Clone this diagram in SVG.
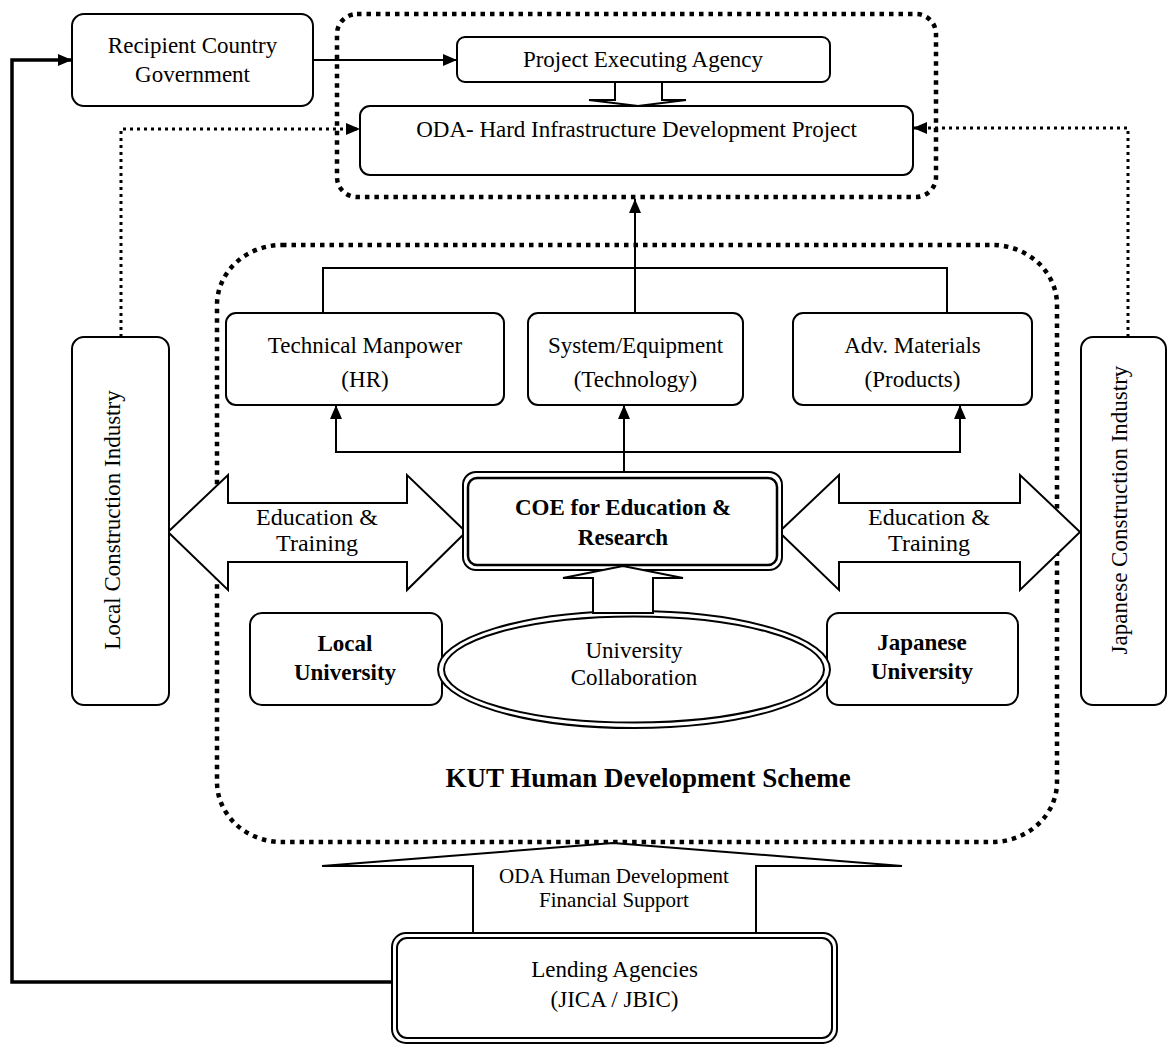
<svg xmlns="http://www.w3.org/2000/svg" width="1168" height="1048" viewBox="0 0 1168 1048">
<defs>
<style>
text{font-family:"Liberation Serif","Times New Roman",serif;font-size:23px;fill:#000;text-anchor:middle}
.b{font-weight:bold}
.et{font-size:24px}
.box{fill:#fff;stroke:#000;stroke-width:2}
.grp{fill:none;stroke:#000;stroke-width:4.5;stroke-dasharray:4.5 5}
.dot{fill:none;stroke:#000;stroke-width:3;stroke-dasharray:3 4}
.ln{fill:none;stroke:#000;stroke-width:2}
.thick{fill:none;stroke:#000;stroke-width:3.5}
.blk{fill:#fff;stroke:#000;stroke-width:2;stroke-linejoin:miter}
</style>
<marker id="arr" viewBox="0 0 14 12" refX="14" refY="6" markerWidth="14" markerHeight="12" markerUnits="userSpaceOnUse" orient="auto">
<path d="M0,0 L14,6 L0,12 z" fill="#000"/>
</marker>
</defs>
<rect width="1168" height="1048" fill="#fff"/>

<!-- group containers -->
<g id="grp-oda">
<rect class="grp" x="337" y="14" width="599" height="183" rx="20" ry="20"/>
</g>
<g id="grp-kut">
<rect class="grp" x="217" y="245" width="840" height="597" rx="65" ry="60"/>
<text class="b" x="648" y="787" style="font-size:27px">KUT Human Development Scheme</text>
</g>

<!-- connectors -->
<g id="connectors">
<path class="thick" d="M393,982 H12 V60 H72" marker-end="url(#arr)"/>
<path class="ln" d="M313,60 H457" marker-end="url(#arr)"/>
<path class="dot" d="M121,337 V129 H360" marker-end="url(#arr)"/>
<path class="dot" d="M1128,337 V128 H913" marker-end="url(#arr)"/>
<path class="ln" d="M323,313 V268 H947 V313"/>
<path class="ln" d="M635,313 V199" marker-end="url(#arr)"/>
<path class="ln" d="M624,452 H336 V405" marker-end="url(#arr)"/>
<path class="ln" d="M624,452 H960 V405" marker-end="url(#arr)"/>
<path class="ln" d="M624,472 V405" marker-end="url(#arr)"/>
<polygon class="blk" points="168,532 228,475 228,503 407,503 407,475 466,532 407,590 407,562 228,562 228,590"/>
<polygon class="blk" points="779,532 839,475 839,503 1020,503 1020,475 1080,532 1020,590 1020,562 839,562 839,590"/>
<text class="et" x="317" y="525">Education &amp;</text>
<text class="et" x="317" y="551">Training</text>
<text class="et" x="929" y="525">Education &amp;</text>
<text class="et" x="929" y="551">Training</text>
<polygon class="blk" points="473,934 473,866 322,866 613,843 902,866 756,866 756,934"/>
<text x="614" y="883" style="font-size:21px">ODA Human Development</text>
<text x="614" y="907" style="font-size:21px">Financial Support</text>
</g>

<!-- nodes -->
<g id="recipient">
<rect class="box" x="72" y="14" width="241" height="92" rx="12"/>
<text x="192.5" y="53">Recipient Country</text>
<text x="192.5" y="82">Government</text>
</g>
<g id="pea">
<rect class="box" x="457" y="37" width="373" height="45" rx="8"/>
<text x="643" y="67">Project Executing Agency</text>
</g>
<g id="oda-hard">
<rect class="box" x="360" y="106" width="553" height="69" rx="10"/>
<text x="636.5" y="137">ODA- Hard Infrastructure Development Project</text>
</g>
<polygon class="blk" points="615,82 615,100 589,100 638,106 686,100 662,100 662,82"/>
<g id="local-industry">
<rect class="box" x="72" y="337" width="97" height="368" rx="12"/>
<text x="120" y="520" transform="rotate(-90 120 520)">Local Construction Industry</text>
</g>
<g id="japanese-industry">
<rect class="box" x="1081" y="337" width="85" height="368" rx="12"/>
<text x="1127" y="510" transform="rotate(-90 1127 510)">Japanese Construction Industry</text>
</g>
<g id="tech-manpower">
<rect class="box" x="226" y="313" width="278" height="92" rx="10"/>
<text x="365" y="353">Technical Manpower</text>
<text x="365" y="387">(HR)</text>
</g>
<g id="system-equipment">
<rect class="box" x="528" y="313" width="215" height="92" rx="10"/>
<text x="635.5" y="353">System/Equipment</text>
<text x="635.5" y="387">(Technology)</text>
</g>
<g id="adv-materials">
<rect class="box" x="793" y="313" width="239" height="92" rx="10"/>
<text x="912.5" y="353">Adv. Materials</text>
<text x="912.5" y="387">(Products)</text>
</g>
<g id="coe">
<rect class="box" x="463" y="472" width="319" height="98" rx="13"/>
<rect class="box" x="468" y="478" width="309" height="87" rx="9" style="stroke-width:2.5"/>
<text class="b" x="623" y="515">COE for Education &amp;</text>
<text class="b" x="623" y="545">Research</text>
</g>
<g id="local-university">
<rect class="box" x="250" y="613" width="192" height="92" rx="12"/>
<text class="b" x="345" y="651">Local</text>
<text class="b" x="345" y="680">University</text>
</g>
<g id="japanese-university">
<rect class="box" x="827" y="613" width="191" height="92" rx="12"/>
<text class="b" x="922" y="650">Japanese</text>
<text class="b" x="922" y="679">University</text>
</g>
<g id="collaboration">
<ellipse class="box" cx="634" cy="669.5" rx="196" ry="58.5"/>
<ellipse class="box" cx="634" cy="669.5" rx="190" ry="53" style="fill:none"/>
<polygon class="blk" points="593,613 593,578 563,578 623,566 683,578 653,578 653,613"/>
<text x="634" y="658">University</text>
<text x="634" y="685">Collaboration</text>
</g>
<g id="lending">
<rect class="box" x="392" y="933" width="445" height="110" rx="14"/>
<rect class="box" x="397" y="938" width="435" height="100" rx="10"/>
<text x="614.5" y="977">Lending Agencies</text>
<text x="614.5" y="1007">(JICA / JBIC)</text>
</g>
</svg>
